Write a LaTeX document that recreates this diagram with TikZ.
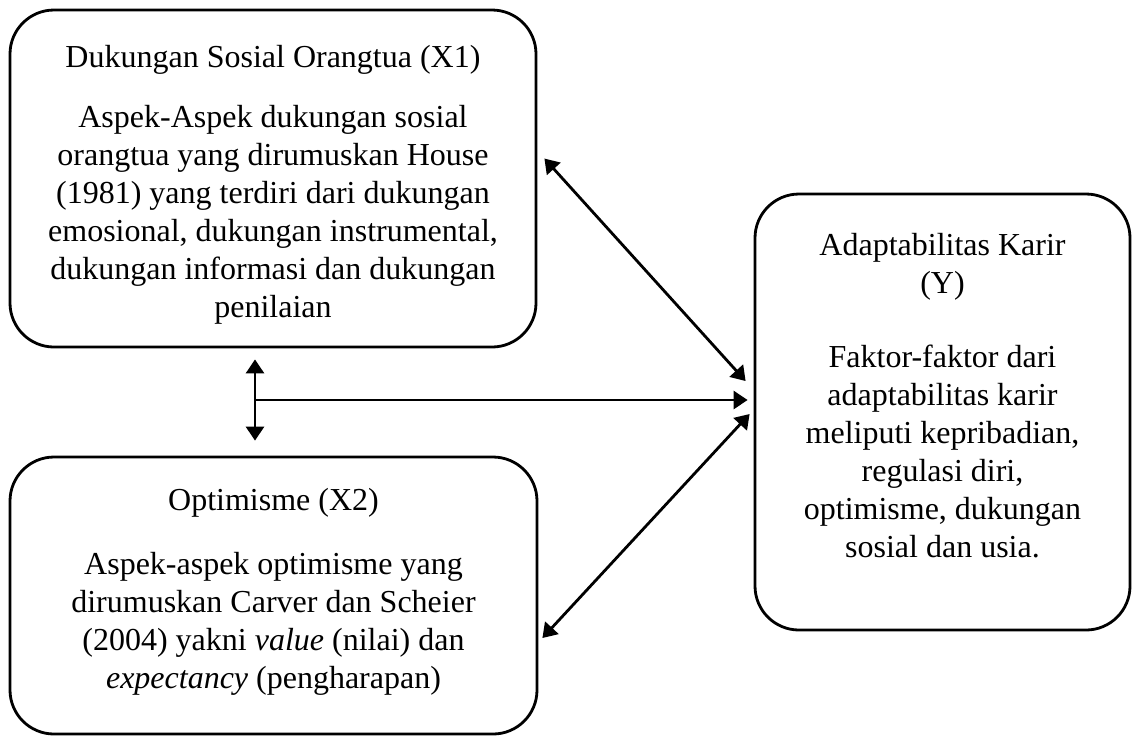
\documentclass[tikz,border=0pt]{standalone}
\usepackage{fontspec}
\setmainfont{Liberation Serif}
\usetikzlibrary{arrows.meta}

\tikzset{
  kotak/.style={draw, line width=1.4pt, rounded corners=22pt, inner sep=0pt},
  isi/.style={align=center, font=\fontsize{16}{19}\selectfont, inner sep=0pt},
  panah/.style={line width=1.4pt, {Triangle[length=7pt,width=9pt]}-{Triangle[length=7pt,width=9pt]}},
  tunggal/.style={line width=1.4pt, -{Triangle[length=7pt,width=9pt]}}
}

\begin{document}
\begin{tikzpicture}[x=0.5pt, y=-0.5pt]
            \useasboundingbox (0,0) rectangle (1134,736);

            \node[kotak, minimum width=263pt, minimum height=168.5pt] (x1) at (273,178.5) {};
            \node[kotak, minimum width=263.5pt, minimum height=138.5pt] (x2) at (273.5,595.5) {};
            \node[kotak, minimum width=187.5pt, minimum height=218pt] (y) at (942.5,412) {};

            \node[isi] (x1isi) at (273,185) {Dukungan Sosial Orangtua (X1)\\[11pt]
                Aspek-Aspek dukungan sosial\\ orangtua yang dirumuskan House\\
                (1981) yang terdiri dari dukungan\\ emosional, dukungan instrumental,\\
                dukungan informasi dan dukungan\\ penilaian};
            \node[isi] (x2isi) at (273.5,592) {Optimisme (X2)\\[13pt]
                Aspek-aspek optimisme yang\\ dirumuskan Carver dan Scheier\\
                (2004) yakni \textit{value} (nilai) dan\\ \textit{expectancy} (pengharapan)};
            \node[isi] (yisi) at (942.5,396) {Adaptabilitas Karir\\ (Y)\\[18pt]
                Faktor-faktor dari\\ adaptabilitas karir\\ meliputi kepribadian,\\
                regulasi diri,\\ optimisme, dukungan\\ sosial dan usia.};

            \coordinate (cabang) at (255,400);

            \draw[panah] ([shift={(7,-20)}]x1.east) -- ([shift={(-8,-31)}]y.west);
            \draw[panah] ([shift={(4,42.5)}]x2.east) -- ([shift={(-4,2)}]y.west);
            \draw[panah] ([shift={(-18,11)}]x1.south) -- ([shift={(-18.5,-15)}]x2.north);
            \draw[tunggal] (cabang) -- ([shift={(-6,-12)}]y.west);
        \end{tikzpicture}
\end{document}
